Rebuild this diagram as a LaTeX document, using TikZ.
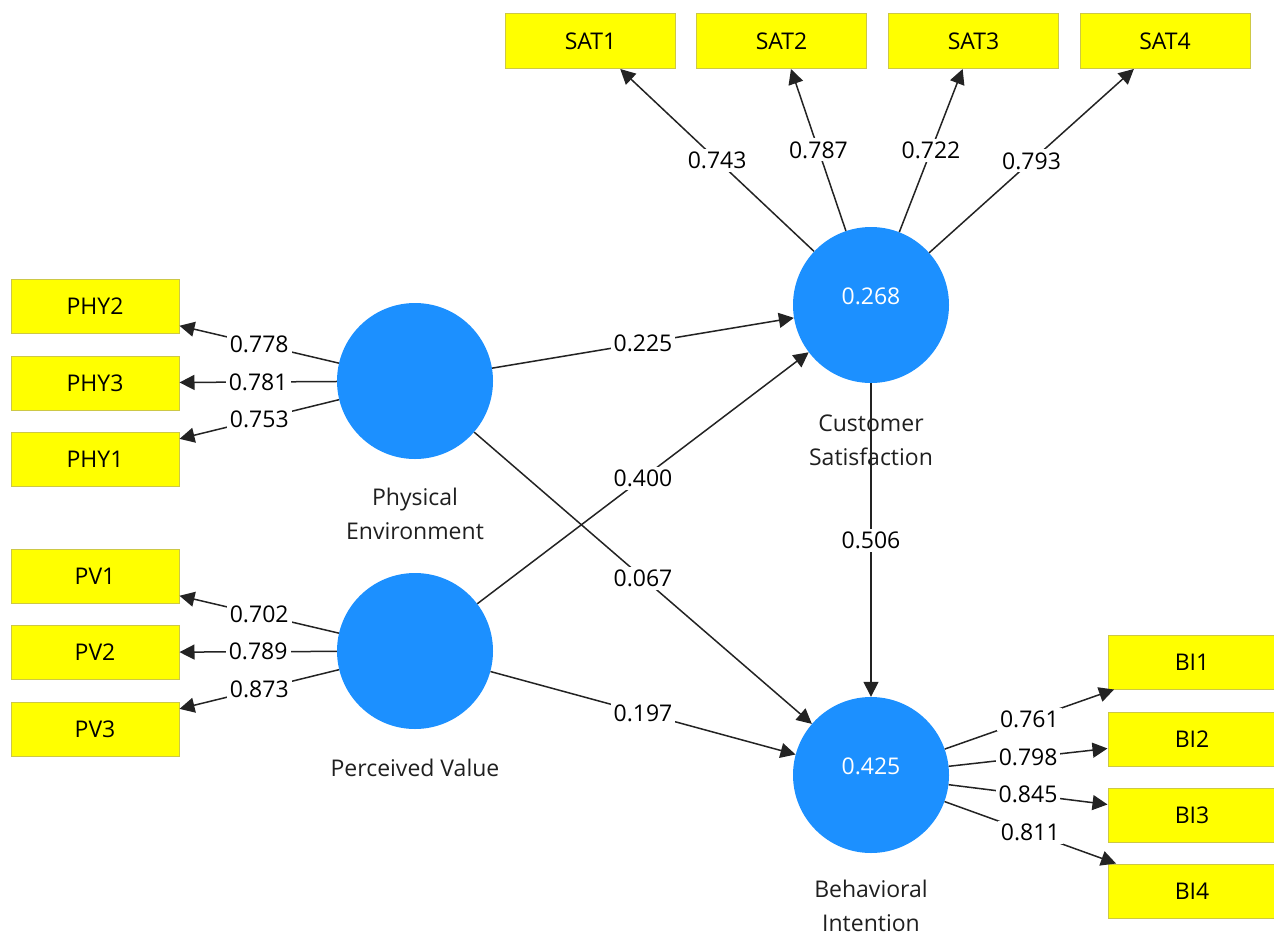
\documentclass[tikz,border=0pt]{standalone}
\usepackage{fontspec}
\setmainfont{Open Sans}
\usetikzlibrary{arrows.meta}
\definecolor{lvblue}{RGB}{28,144,255}
\definecolor{boxyellow}{RGB}{255,255,0}
\definecolor{boxedge}{RGB}{205,200,70}
\definecolor{linegray}{RGB}{35,35,35}
\begin{document}
\begin{tikzpicture}[x=1pt,y=-1pt,
  latent/.style={circle,fill=lvblue,draw=none,minimum size=156pt,inner sep=0pt},
  indicator/.style={rectangle,fill=boxyellow,draw=boxedge,line width=1pt,minimum width=168pt,minimum height=54pt,inner sep=0pt,font=\fontsize{23}{28}\selectfont},
  rsq/.style={text=white,inner sep=0pt,font=\fontsize{23}{28}\selectfont},
  lvname/.style={align=center,inner sep=0pt,font=\fontsize{23}{34}\selectfont,text=black!88},
  conn/.style={draw=linegray,line width=1.5pt,-{Triangle[length=15pt,width=15pt]}},
  coef/.style={fill=white,inner sep=3pt,font=\fontsize{23}{28}\selectfont,text=black}]
\useasboundingbox (0,0) rectangle (1274,937);

% latent variables
\node[latent] (PE) at (415,381) {};
\node[latent] (PV) at (415,651) {};
\node[latent] (CS) at (871,305) {};
\node[latent] (BI) at (871,775) {};
\node[rsq] (CSv) at (871,296) {0.268};
\node[rsq] (BIv) at (871,766) {0.425};

\node[lvname] (PEn) at (415,514) {Physical\\Environment};
\node[lvname] (PVn) at (415,768) {Perceived Value};
\node[lvname] (CSn) at (871,440) {Customer\\Satisfaction};
\node[lvname] (BIn) at (871,906) {Behavioral\\Intention};

% indicators
\node[indicator] (PHY2) at (95,306) {PHY2};
\node[indicator] (PHY3) at (95,383) {PHY3};
\node[indicator] (PHY1) at (95,459.5) {PHY1};
\node[indicator] (PV1) at (95,576) {PV1};
\node[indicator] (PV2) at (95,652.5) {PV2};
\node[indicator] (PV3) at (95,729.5) {PV3};
\node[indicator,minimum width=170pt,minimum height=55pt] (SAT1) at (590.5,41) {SAT1};
\node[indicator,minimum width=170pt,minimum height=55pt] (SAT2) at (781.5,41) {SAT2};
\node[indicator,minimum width=170pt,minimum height=55pt] (SAT3) at (973.5,41) {SAT3};
\node[indicator,minimum width=170pt,minimum height=55pt] (SAT4) at (1165,41) {SAT4};
\node[indicator] (BI1) at (1192,662) {BI1};
\node[indicator] (BI2) at (1192,739) {BI2};
\node[indicator] (BI3) at (1192,815) {BI3};
\node[indicator] (BI4) at (1192,891) {BI4};

% outer loadings
\draw[conn] (PE) -- node[coef]{0.778} (PHY2);
\draw[conn] (PE) -- node[coef]{0.781} (PHY3);
\draw[conn] (PE) -- node[coef]{0.753} (PHY1);
\draw[conn] (PV) -- node[coef]{0.702} (PV1);
\draw[conn] (PV) -- node[coef]{0.789} (PV2);
\draw[conn] (PV) -- node[coef]{0.873} (PV3);
\draw[conn] (CS) -- node[coef]{0.743} (SAT1);
\draw[conn] (CS) -- node[coef]{0.787} (SAT2);
\draw[conn] (CS) -- node[coef]{0.722} (SAT3);
\draw[conn] (CS) -- node[coef]{0.793} (SAT4);
\draw[conn] (BI) -- node[coef]{0.761} (BI1);
\draw[conn] (BI) -- node[coef]{0.798} (BI2);
\draw[conn] (BI) -- node[coef]{0.845} (BI3);
\draw[conn] (BI) -- node[coef]{0.811} (BI4);

% path coefficients
\draw[conn] (PE) -- node[coef]{0.225} (CS);
\draw[conn] (PV) -- node[coef]{0.400} (CS);
\draw[conn] (PE) -- node[coef]{0.067} (BI);
\draw[conn] (PV) -- node[coef]{0.197} (BI);
\draw[conn] (CS) -- node[coef]{0.506} (BI);
\end{tikzpicture}
\end{document}
